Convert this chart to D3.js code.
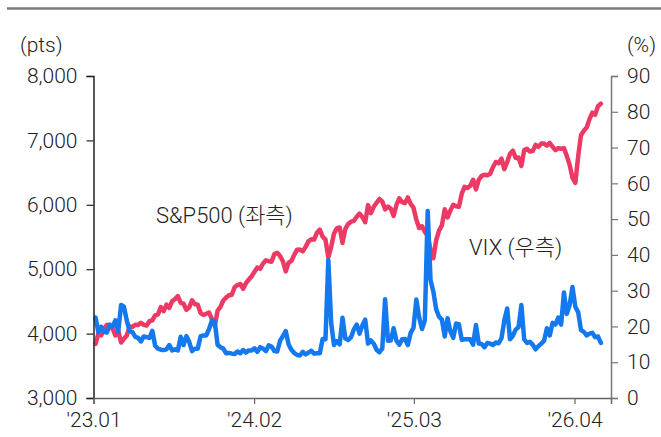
<!DOCTYPE html>
<html>
<head>
<meta charset="utf-8">
<script src="https://cdn.jsdelivr.net/npm/d3@7"></script>
<style>
  html, body { margin: 0; padding: 0; background: #fff; }
  svg { display: block; }
  text { font-family: Roboto, "Noto Sans CJK KR", sans-serif; font-weight: 300; fill: #222; }
</style>
</head>
<body>
<svg id="chart" width="661" height="437"></svg>
<script>
// ---- data (weekly, Friday closes) ----
const firstWeek = "2023-01-06";
const lastWeek = "2026-06-05";

const spx2023 = [3840,3999,3973,4071,4136,4090,4079,3970,4045,3862,3917,3971,4109,4105,4138,4133,4169,4136,4124,4192,4205,4282,4299,4410,4348,4450,4399,4505,4536,4582,4478,4464,4370,4406,4515,4457,4450,4320,4288,4308,4327,4224,4117,4358,4415,4514,4559,4595,4604,4719,4754,4770];
const spx2024 = [4697,4784,4840,4891,4959,5027,5006,5089,5137,5124,5117,5234,5254,5204,5123,4967,5100,5128,5223,5303,5305,5278,5347,5432,5465,5460,5567,5615,5505,5459,5186,5344,5554,5634,5648,5408,5626,5703,5738,5751,5815,5864,5808,5729,5995,5870,5969,6032,6090,6051,5930,5971];
const spx2025 = [5942,5827,5997,6101,6040,6026,6115,6013,5955,5770,5639,5667,5580,5520,5300,5170,5450,5600,5680,5930,5803,5912,6000,5977,5968,6173,6279,6260,6297,6389,6238,6389,6450,6467,6460,6482,6584,6664,6644,6716,6553,6664,6791,6840,6728,6734,6603,6849,6870,6827,6834,6930];
const spx2026 = [6900,6950,6950,6920,6960,6900,6850,6880,6870,6880,6760,6620,6420,6340,6750,7080,7150,7200,7330,7430,7400,7530,7570];

const vix2023 = [22.5,18.4,19.9,18.5,18.3,20.5,20.0,21.7,18.5,26.0,25.5,21.7,18.7,18.4,17.1,16.8,15.8,17.2,17.0,16.8,18.8,14.6,13.8,13.5,13.4,13.6,14.8,13.3,13.6,13.3,17.1,14.8,17.3,15.7,13.1,13.8,13.8,17.2,17.5,17.5,19.3,21.7,21.3,14.9,14.2,13.8,12.5,12.6,12.4,12.3,13.0,12.5];
const vix2024 = [13.4,12.7,13.3,13.3,13.9,12.9,14.2,13.8,13.1,14.7,14.4,13.1,13.0,16.0,17.3,18.7,15.0,13.5,12.6,12.0,11.9,12.9,12.2,12.7,13.2,12.4,12.5,12.5,16.5,16.4,38.6,21.0,14.8,15.9,15.0,22.4,16.6,16.2,17.0,19.2,20.5,18.0,20.3,21.9,15.2,16.1,15.2,13.5,12.8,13.8,27.6,16.0];
const vix2025 = [16.1,19.5,16.0,14.9,16.4,16.5,14.8,18.2,19.6,27.5,22.5,19.3,21.7,52.3,33.0,29.7,24.8,22.7,21.9,17.2,22.3,18.6,16.8,20.8,20.6,16.3,16.4,16.4,16.4,14.9,20.4,15.2,15.1,14.2,15.4,15.2,14.8,15.5,15.3,16.7,21.7,25.0,16.4,17.4,19.1,19.8,26.0,16.4,15.4,15.7,14.9,13.6];
const vix2026 = [14.5,15.2,16.0,19.5,17.5,21.0,20.5,22.5,20.5,29.5,23.5,26.0,31.0,25.5,24.0,19.0,18.5,17.5,18.0,18.2,17.0,17.2,15.4];

const xTickDates = ["2023-01-01","2024-02-01","2025-03-01","2026-04-01"];
const xTickLabels = ["'23.01","'24.02","'25.03","'26.04"];
const leftTicks = [3000,4000,5000,6000,7000,8000];
const rightTicks = [0,10,20,30,40,50,60,70,80,90];
const leftUnit = "(pts)";
const rightUnit = "(%)";
const spxLabel = "S&P500 (좌측)";
const vixLabel = "VIX (우측)";

// ---- build ----
const parse = d3.timeParse("%Y-%m-%d");
const weeks = d3.timeFriday.range(parse(firstWeek), d3.timeDay.offset(parse(lastWeek), 1));
const spx = [].concat(spx2023, spx2024, spx2025, spx2026);
const vix = [].concat(vix2023, vix2024, vix2025, vix2026);
const n = Math.min(weeks.length, spx.length, vix.length);
const spxData = d3.range(n).map(i => ({d: weeks[i], v: spx[i]}));
const vixData = d3.range(n).map(i => ({d: weeks[i], v: vix[i]}));

const svg = d3.select("#chart");
const L = 93.5, R = 611, T = 76, B = 398;

const x = d3.scaleTime().domain([parse("2023-01-01"), parse("2026-06-30")]).range([L, R]);
const yL = d3.scaleLinear().domain([3000, 8000]).range([B, T]);
const yR = d3.scaleLinear().domain([0, 90]).range([B, T]);

// top rule
svg.append("line").attr("x1", 7).attr("x2", 661).attr("y1", 8.5).attr("y2", 8.5)
  .attr("stroke", "#7a7a7a").attr("stroke-width", 2.5);

// lines
const lineL = d3.line().x(d => x(d.d)).y(d => yL(d.v)).curve(d3.curveLinear);
const lineR = d3.line().x(d => x(d.d)).y(d => yR(d.v)).curve(d3.curveLinear);

svg.append("path").datum(spxData).attr("d", lineL)
  .attr("fill", "none").attr("stroke", "#EC3A64").attr("stroke-width", 4.5)
  .attr("stroke-linejoin", "round").attr("stroke-linecap", "round");
svg.append("path").datum(vixData).attr("d", lineR)
  .attr("fill", "none").attr("stroke", "#1479EE").attr("stroke-width", 4.5)
  .attr("stroke-linejoin", "round").attr("stroke-linecap", "round");

// axes
const fs = "21px";
const gL = svg.append("g").attr("transform", `translate(${L},0)`)
  .call(d3.axisLeft(yL).tickValues(leftTicks).tickFormat(d3.format(",")).tickSize(7).tickPadding(9));
gL.select(".domain").attr("stroke", "#222").attr("stroke-width", 1.5);
gL.selectAll(".tick line").attr("stroke", "#222").attr("stroke-width", 1.2);

const gR = svg.append("g").attr("transform", `translate(${R},0)`)
  .call(d3.axisRight(yR).tickValues(rightTicks).tickSize(7).tickPadding(9));
gR.select(".domain").attr("stroke", "#777").attr("stroke-width", 1.5);
gR.selectAll(".tick line").attr("stroke", "#777").attr("stroke-width", 1.2);

const gB = svg.append("g").attr("transform", `translate(0,${B})`)
  .call(d3.axisBottom(x).tickValues(xTickDates.map(parse))
    .tickFormat((d, i) => xTickLabels[i]).tickSize(6).tickPadding(8));
gB.select(".domain").attr("stroke", "#666").attr("stroke-width", 1.5);
gB.selectAll(".tick line").attr("stroke", "#666").attr("stroke-width", 1.2);

svg.selectAll(".tick text").style("font-family", "Roboto, 'Noto Sans CJK KR', sans-serif")
  .style("font-weight", 300).style("font-size", fs).attr("fill", "#222");

// units
svg.append("text").attr("x", 20).attr("y", 52).style("font-size", fs).text(leftUnit);
svg.append("text").attr("x", 656).attr("y", 52).attr("text-anchor", "end").style("font-size", fs).text(rightUnit);

// series labels
svg.append("text").attr("x", 156).attr("y", 223).style("font-size", "22px").text(spxLabel);
svg.append("text").attr("x", 469).attr("y", 255).style("font-size", "22px").text(vixLabel);
</script>
</body>
</html>
